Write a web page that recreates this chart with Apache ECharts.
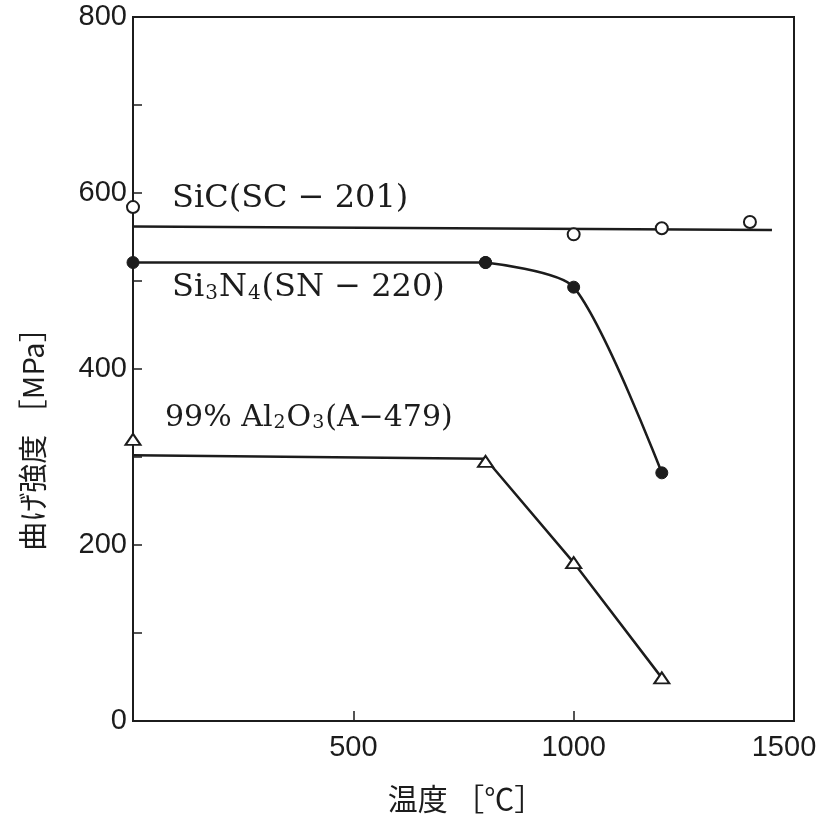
<!DOCTYPE html>
<html>
<head>
<meta charset="utf-8">
<script src="https://cdn.jsdelivr.net/npm/echarts@6/dist/echarts.min.js"></script>
<style>
html, body { margin: 0; padding: 0; background: #fff; }
#chart { width: 821px; height: 819px; }
</style>
</head>
<body>
<div id="chart"></div>
<script>
// 測定点 (温度 ℃, 曲げ強度 MPa)
const sicTemp = [0, 1000, 1200, 1400];
const sicStrength = [584, 553, 560, 567];
const sicFitTemp = [0, 1450];
const sicFitStrength = [562, 558];

const snTemp = [0, 800, 1000, 1200];
const snStrength = [521, 521, 493, 282];

const alTemp = [0, 800, 1000, 1200];
const alStrength = [320, 295, 180, 49];
const alFitTemp = [0, 800, 1000, 1200];
const alFitStrength = [302, 298, 180, 49];

const xTicks = [500, 1000, 1500];
const yTicks = [0, 200, 400, 600, 800];

const ink = '#1c1c1c';
const numFont = '"Liberation Sans Narrow", "Liberation Sans", sans-serif';
const serif = '"DejaVu Serif", "Liberation Serif", serif';

function pairs(xs, ys) {
    return xs.map((x, i) => [x, ys[i]]);
}

const snPoints = pairs(snTemp, snStrength);

const chart = echarts.init(document.getElementById('chart'));

const subRich = {
    n: { fontSize: 32, fontFamily: serif, fill: ink },
    s: { fontSize: 20, fontFamily: serif, fill: ink, verticalAlign: 'bottom', padding: [10, 1, 0, 1] }
};

const option = {
    backgroundColor: '#fff',
    animation: false,
    grid: {
        left: 133,
        right: 27,
        top: 17,
        bottom: 98,
        outerBoundsMode: 'none',
        containLabel: false,
        show: true,
        borderColor: ink,
        borderWidth: 2
    },
    xAxis: {
        type: 'value',
        min: 0,
        max: 1500,
        interval: 500,
        axisLine: { lineStyle: { color: ink, width: 2 } },
        axisTick: { inside: true, length: 10, lineStyle: { color: ink, width: 1.5 } },
        splitLine: { show: false },
        axisLabel: {
            color: ink,
            fontFamily: numFont,
            fontSize: 29,
            margin: 12,
            formatter: v => {
                if (!xTicks.includes(v)) return '';
                return v === 1500 ? '{r|' + v + '}' : String(v);
            },
            rich: {
                r: { fontFamily: numFont, fontSize: 29, color: ink, padding: [0, 20, 0, 0] }
            }
        }
    },
    yAxis: {
        type: 'value',
        min: 0,
        max: 800,
        interval: 200,
        axisLine: { lineStyle: { color: ink, width: 2 } },
        axisTick: { inside: true, length: 9, lineStyle: { color: ink, width: 1.5 } },
        minorTick: { show: true, splitNumber: 2, length: 9, lineStyle: { color: ink, width: 1.5 } },
        splitLine: { show: false },
        axisLabel: {
            color: ink,
            fontFamily: numFont,
            fontSize: 29,
            margin: 6,
            formatter: v => yTicks.includes(v) ? String(v) : ''
        }
    },
    graphic: [
        {
            type: 'text',
            x: 466,
            y: 799,
            style: {
                text: '温度 ［℃］',
                font: '30px "Noto Sans CJK JP"',
                fill: ink,
                align: 'center',
                verticalAlign: 'middle'
            }
        },
        {
            type: 'text',
            x: 33,
            y: 432,
            rotation: Math.PI / 2,
            style: {
                text: '曲げ強度 ［MPa］',
                font: '29px "Noto Sans CJK JP"',
                fill: ink,
                align: 'center',
                verticalAlign: 'middle'
            }
        },
        {
            type: 'text',
            x: 172,
            y: 199,
            style: {
                text: 'SiC(SC − 201)',
                font: '32px ' + serif,
                fill: ink,
                verticalAlign: 'middle'
            }
        },
        {
            type: 'text',
            x: 172,
            y: 288,
            style: {
                text: '{n|Si}{s|3}{n|N}{s|4}{n|(SN − 220)}',
                fill: ink,
                verticalAlign: 'middle',
                rich: subRich
            }
        },
        {
            type: 'text',
            x: 165,
            y: 418,
            style: {
                text: '{n|99% Al}{s|2}{n|O}{s|3}{n|(A−479)}',
                fill: ink,
                verticalAlign: 'middle',
                rich: {
                    n: { fontSize: 30, fontFamily: serif, fill: ink },
                    s: { fontSize: 19, fontFamily: serif, fill: ink, verticalAlign: 'bottom', padding: [10, 1, 0, 1] }
                }
            }
        }
    ],
    series: [
        {
            name: 'SiC fit',
            type: 'line',
            data: pairs(sicFitTemp, sicFitStrength),
            symbol: 'none',
            lineStyle: { color: ink, width: 2.5 },
            z: 2
        },
        {
            name: 'SiC(SC-201)',
            type: 'scatter',
            data: pairs(sicTemp, sicStrength),
            symbol: 'circle',
            symbolSize: 12,
            itemStyle: { color: '#fff', borderColor: ink, borderWidth: 2, opacity: 1 },
            z: 3
        },
        {
            // 室温〜800℃ は直線
            name: 'Si3N4(SN-220)',
            type: 'line',
            data: snPoints.slice(0, 2),
            symbol: 'circle',
            symbolSize: 12,
            itemStyle: { color: ink, borderColor: ink, opacity: 1 },
            lineStyle: { color: ink, width: 2.5 },
            z: 3
        },
        {
            // 800℃以上は曲線
            name: 'Si3N4(SN-220)',
            type: 'line',
            data: snPoints.slice(1),
            smooth: 0.25,
            symbol: 'circle',
            symbolSize: 12,
            showAllSymbol: true,
            itemStyle: { color: ink, borderColor: ink, opacity: 1 },
            lineStyle: { color: ink, width: 2.5 },
            z: 3
        },
        {
            name: 'Al2O3 fit',
            type: 'line',
            data: pairs(alFitTemp, alFitStrength),
            symbol: 'none',
            lineStyle: { color: ink, width: 2.5 },
            z: 2
        },
        {
            name: '99% Al2O3(A-479)',
            type: 'scatter',
            data: pairs(alTemp, alStrength),
            symbol: 'triangle',
            symbolSize: [15, 11],
            itemStyle: { color: '#fff', borderColor: ink, borderWidth: 2, opacity: 1 },
            z: 3
        }
    ]
};

chart.setOption(option);
window.addEventListener('resize', () => chart.resize());
</script>
</body>
</html>
